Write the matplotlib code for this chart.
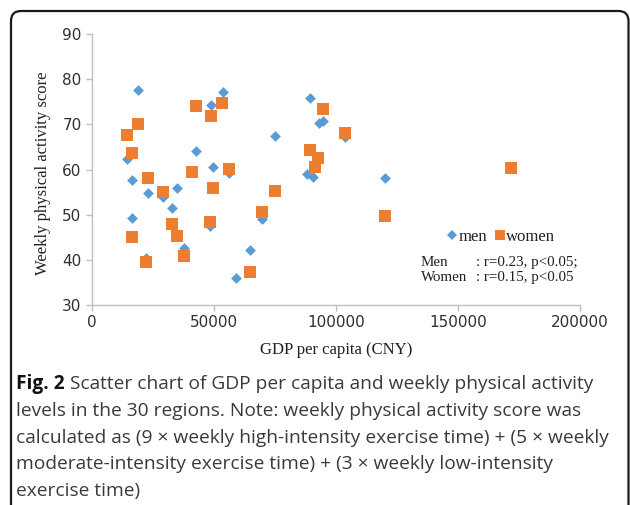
import matplotlib
matplotlib.use("Agg")
import matplotlib.pyplot as plt
from matplotlib.patches import FancyBboxPatch
from matplotlib.lines import Line2D

# ---- data ----
men_gdp = [18900, 48800, 53500, 75000, 42600, 14300, 49700, 16300, 23100, 29000,
           34800, 32800, 16300, 69500, 48200, 37600, 22000, 64900, 59100, 89500,
           93000, 94700, 103700, 88100, 90600, 120000, 56300]
men_score = [77.6, 74.3, 77.2, 67.5, 64.1, 62.4, 60.5, 57.7, 54.8, 54.0,
             56.0, 51.4, 49.3, 49.0, 47.4, 42.7, 40.4, 42.2, 35.9, 75.9,
             70.2, 70.8, 67.1, 59.0, 58.4, 58.1, 59.3]
women_gdp = [42600, 53400, 48800, 18900, 14300, 16300, 56300, 40800, 23100, 29000,
             49700, 75000, 69500, 32800, 48200, 16300, 34800, 37600, 22000, 64900,
             94700, 103700, 89500, 92700, 91400, 120000, 171800]
women_score = [74.1, 74.7, 71.9, 70.1, 67.6, 63.6, 60.1, 59.5, 58.2, 55.0,
               56.0, 55.3, 50.5, 48.0, 48.4, 45.1, 45.2, 40.9, 39.6, 37.3,
               73.3, 68.1, 64.4, 62.5, 60.6, 49.7, 60.3]
x_ticks = [0, 50000, 100000, 150000, 200000]
y_ticks = [30, 40, 50, 60, 70, 80, 90]
series_names = ["men", "women"]
stats_names = ["Men", "Women"]
stats_values = [": r=0.23, p<0.05;", ": r=0.15, p<0.05"]
x_label = "GDP per capita (CNY)"
y_label = "Weekly physical activity score"
caption_bold = "Fig. 2"
caption_lines = [
    "Scatter chart of GDP per capita and weekly physical activity",
    "levels in the 30 regions. Note: weekly physical activity score was",
    "calculated as (9 \u00d7 weekly high-intensity exercise time) + (5 \u00d7 weekly",
    "moderate-intensity exercise time) + (3 \u00d7 weekly low-intensity",
    "exercise time)",
]

BLUE = "#5B9BD5"
ORANGE = "#ED7D31"
AXC = "#BFBFBF"

W, H = 630, 505
fig = plt.figure(figsize=(W / 100, H / 100), dpi=100)
fig.patch.set_facecolor("white")

ax = fig.add_axes([92 / W, 1 - 305 / H, (580 - 92) / W, (305 - 34) / H])
ax.scatter(men_gdp, men_score, marker="D", s=30, color=BLUE, linewidths=0, zorder=3)
ax.scatter(women_gdp, women_score, marker="s", s=70, color=ORANGE, linewidths=0, zorder=4)

ax.set_xlim(0, 200000)
ax.set_ylim(30, 90)
ax.set_xticks(x_ticks)
ax.set_yticks(y_ticks)
ax.set_xticklabels([str(v) for v in x_ticks])
ax.set_yticklabels([str(v) for v in y_ticks])
for s in ["top", "right"]:
    ax.spines[s].set_visible(False)
for s in ["left", "bottom"]:
    ax.spines[s].set_color(AXC)
    ax.spines[s].set_linewidth(1.0)
ax.tick_params(axis="both", direction="out", length=4, width=1.0, color=AXC,
               labelsize=11, labelcolor="#303030", pad=3.5)
for lab in ax.get_xticklabels() + ax.get_yticklabels():
    lab.set_family("DejaVu Sans")

serif = ["Liberation Serif", "DejaVu Serif"]
fig.text(336 / W, 1 - 350 / H, x_label, ha="center", va="center",
         family=serif, fontsize=12, color="#202020")
fig.text(43 / W, 1 - 173 / H, y_label, ha="center", va="center", rotation=90,
         family=serif, fontsize=12, color="#202020")

# legend
handles = [Line2D([], [], marker="D", linestyle="none", color=BLUE, markersize=5, markeredgewidth=0),
           Line2D([], [], marker="s", linestyle="none", color=ORANGE, markersize=7, markeredgewidth=0)]
leg = ax.legend(handles, series_names, ncol=2, frameon=False, loc="center left",
                bbox_to_anchor=(447 / W, 1 - 237 / H), bbox_transform=fig.transFigure,
                handlelength=0.6, handletextpad=0.1, columnspacing=0.45,
                borderpad=0, borderaxespad=0, prop={"family": serif, "size": 12})
for t in leg.get_texts():
    t.set_color("#202020")

fig.text(421 / W, 1 - 270 / H, "\n".join(stats_names), ha="left", va="center",
         family=serif, fontsize=10.8, color="#202020", linespacing=1.2)
fig.text(476 / W, 1 - 270 / H, "\n".join(stats_values), ha="left", va="center",
         family=serif, fontsize=10.8, color="#202020", linespacing=1.2)

# caption
cap_font = ["Open Sans", "DejaVu Sans"]
cap_size = 13.8
y0 = 384
dy = 26.8
bold = fig.text(16 / W, 1 - y0 / H, caption_bold, ha="left", va="center",
                family=cap_font, fontsize=cap_size, weight="bold", color="#111111")
ax.annotate(" " + caption_lines[0], xy=(1, 0.5), xycoords=bold, ha="left", va="center",
            family=cap_font, fontsize=cap_size, color="#3a3a3a", annotation_clip=False)
for i, line in enumerate(caption_lines[1:], start=1):
    fig.text(16 / W, 1 - (y0 + i * dy) / H, line, ha="left", va="center",
             family=cap_font, fontsize=cap_size, color="#3a3a3a")

# border
border = FancyBboxPatch((0.11, -0.5), 6.285 - 0.11, 4.94 + 0.5,
                        boxstyle="round,pad=0,rounding_size=0.1",
                        transform=fig.dpi_scale_trans, fill=False,
                        edgecolor="#1a1a1a", linewidth=1.6, clip_on=False)
fig.patches.append(border)

fig.savefig("out.png", dpi=100)
